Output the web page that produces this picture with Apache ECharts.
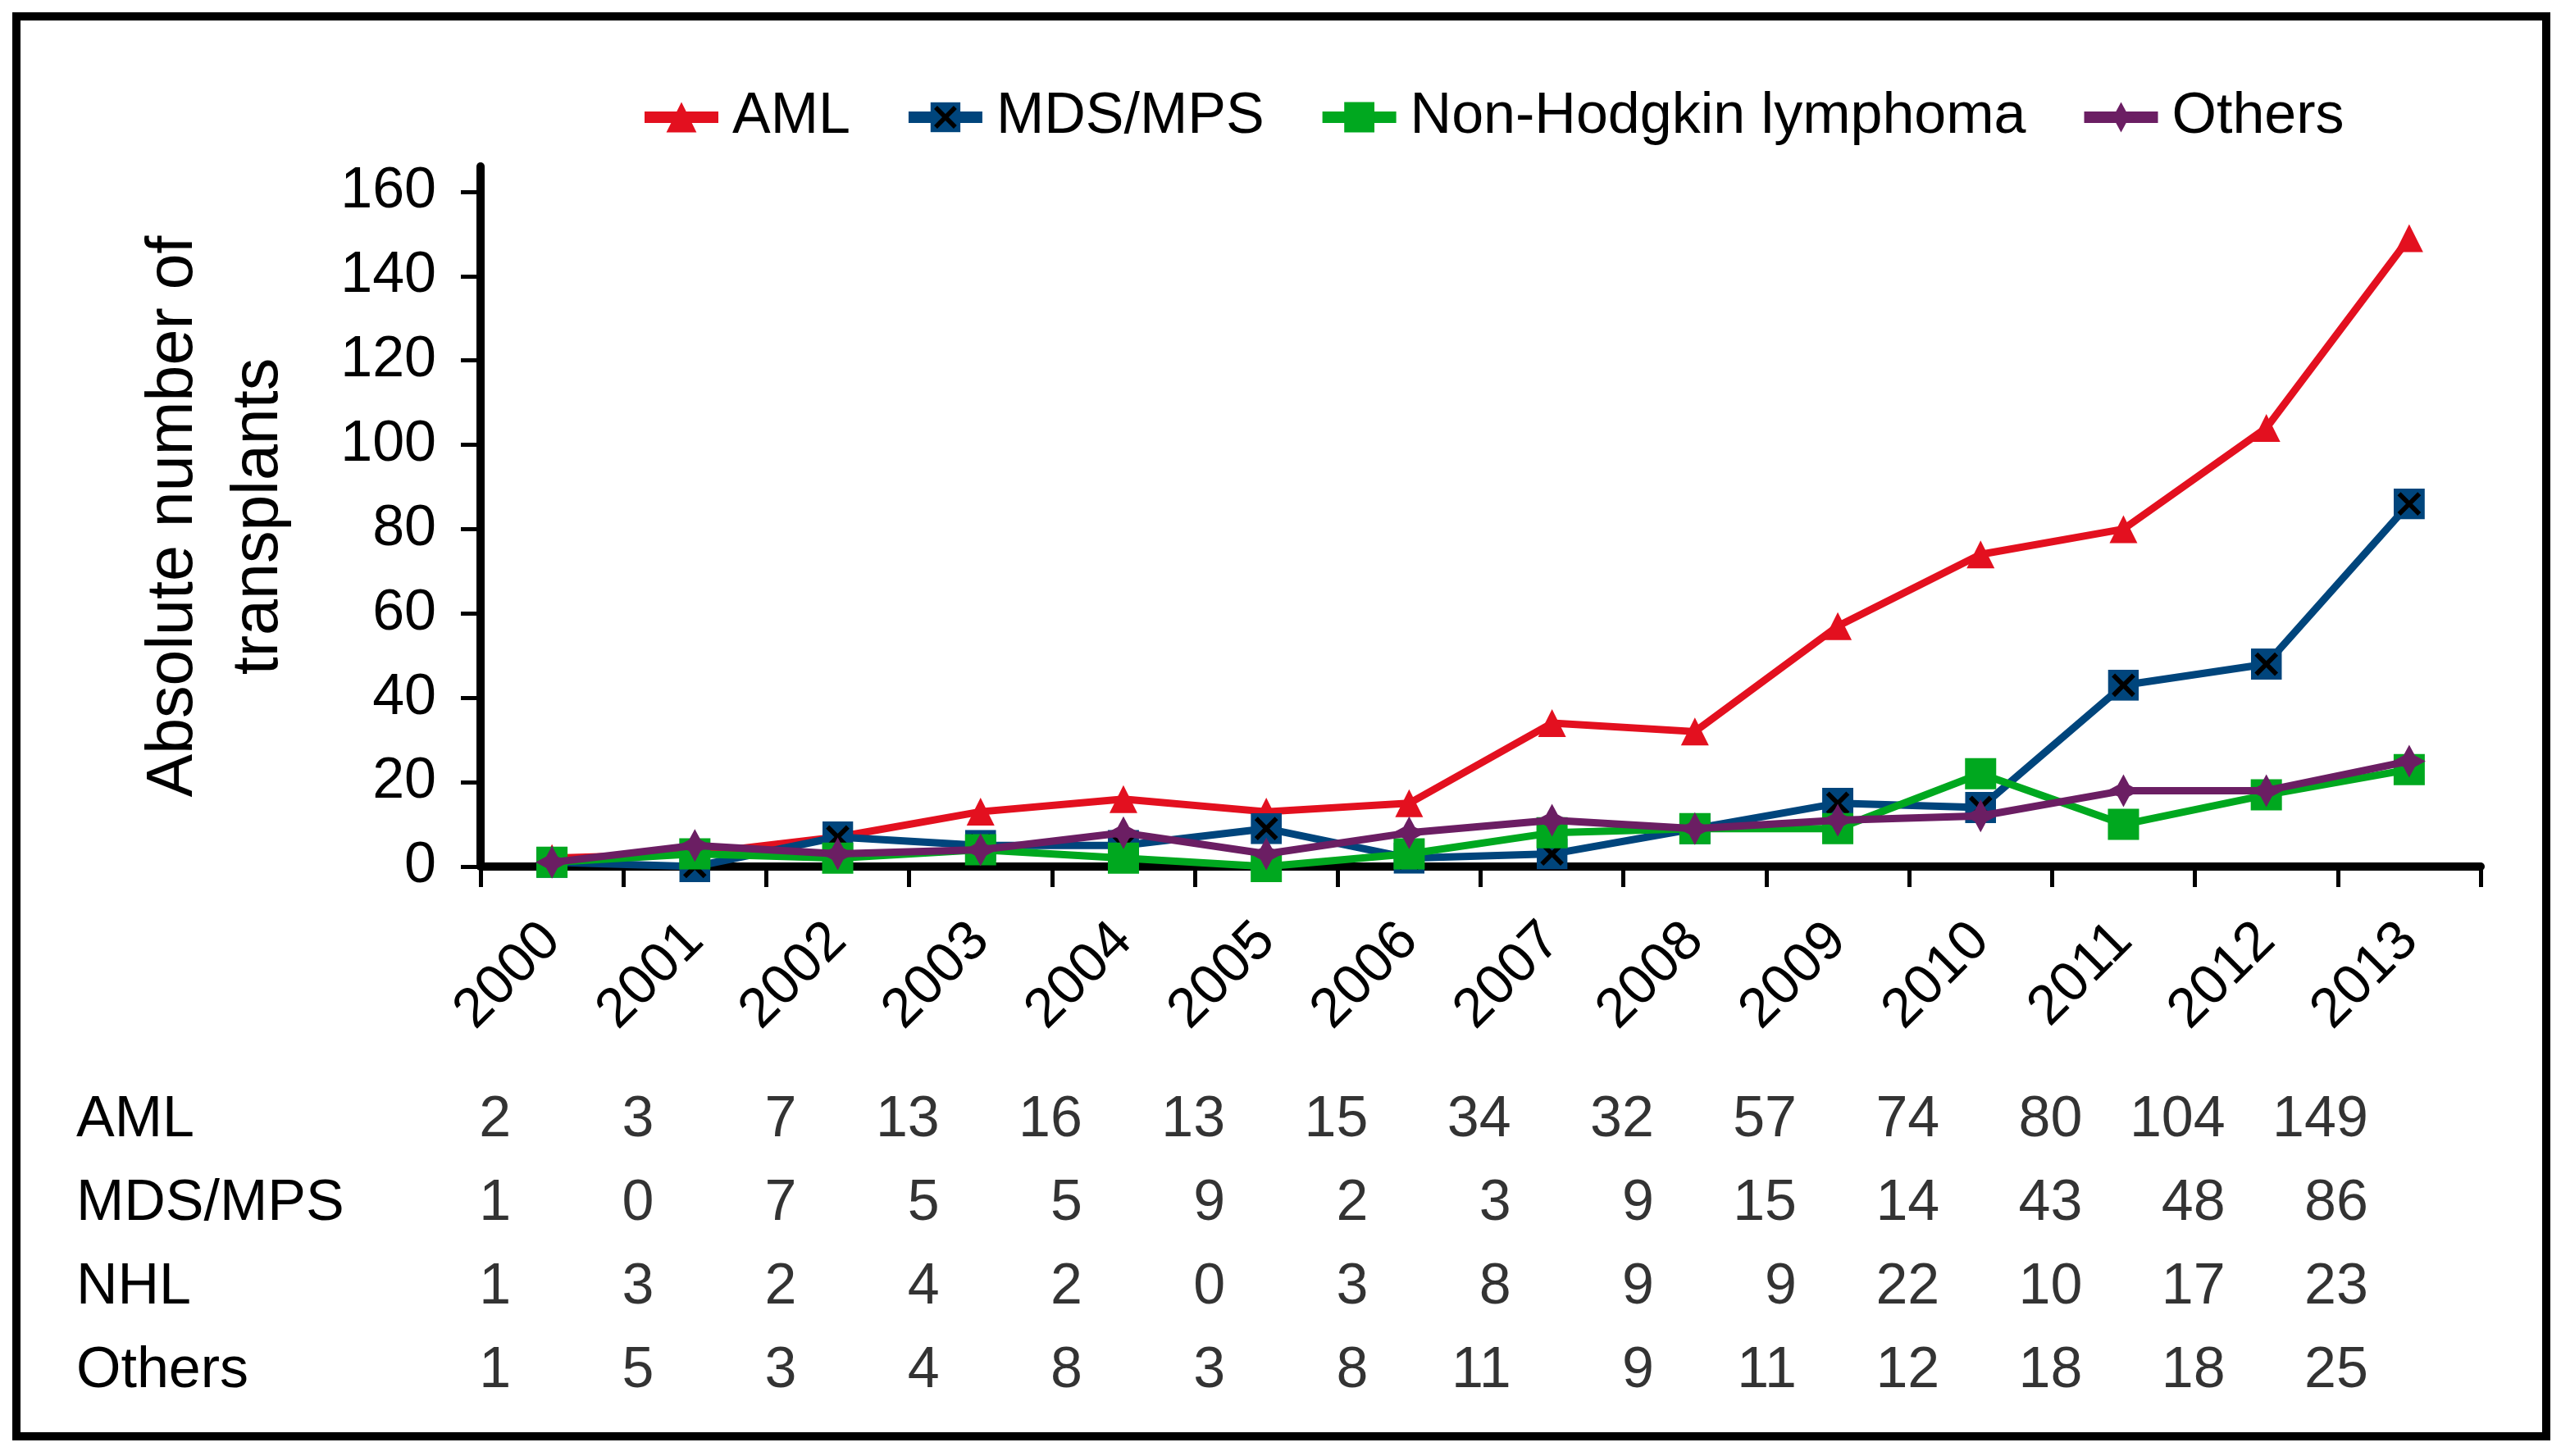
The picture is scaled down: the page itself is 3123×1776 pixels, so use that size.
<!DOCTYPE html>
<html>
<head>
<meta charset="utf-8">
<script src="https://cdn.jsdelivr.net/npm/echarts@6/dist/echarts.min.js"></script>
<style>
html,body{margin:0;padding:0;background:#fff;}
#chart{width:3123px;height:1776px;}
</style>
</head>
<body>
<div id="chart"></div>
<script>
const years = ['2000','2001','2002','2003','2004','2005','2006','2007','2008','2009','2010','2011','2012','2013'];
const aml = [2,3,7,13,16,13,15,34,32,57,74,80,104,149];
const mdsMps = [1,0,7,5,5,9,2,3,9,15,14,43,48,86];
const nhl = [1,3,2,4,2,0,3,8,9,9,22,10,17,23];
const others = [1,5,3,4,8,3,8,11,9,11,12,18,18,25];
const seriesNames = ['AML','MDS/MPS','Non-Hodgkin lymphoma','Others'];
const tableRows = ['AML','MDS/MPS','NHL','Others'];
const yTicks = [0,20,40,60,80,100,120,140,160];

const FONT = '"Liberation Sans", Arial, sans-serif';
const colors = ['#E3101F','#00457C','#00A81F','#6B1E63'];
const mdsSvg = '<svg xmlns="http://www.w3.org/2000/svg" width="40" height="40"><rect width="40" height="40" fill="#00457C"/><path d="M7 7L33 33M33 7L7 33" stroke="#000" stroke-width="6"/></svg>';
const mdsSymbol = 'image://data:image/svg+xml;charset=utf-8,' + encodeURIComponent(mdsSvg);
const starSymbol = 'path://M0,-10 L3.5,-3.5 L10,0 L3.5,3.5 L0,10 L-3.5,3.5 L-10,0 L-3.5,-3.5 Z';

const allSeries = [aml, mdsMps, nhl, others];
const symbols = ['triangle', mdsSymbol, 'rect', starSymbol];
const symSizes = [34, 38, 38, 40];

const chart = echarts.init(document.getElementById('chart'), null, {renderer: 'canvas'});

const lineSeries = allSeries.map((vals, k) => ({
  name: seriesNames[k],
  type: 'line',
  xAxisIndex: 0, yAxisIndex: 0,
  data: vals,
  symbol: symbols[k],
  symbolSize: symSizes[k],
  showAllSymbol: true,
  lineStyle: {color: colors[k], width: 9},
  itemStyle: {color: colors[k]},
  z: 2 + k
}));

const tableValues = [aml, mdsMps, nhl, others];
const tableSeries = tableValues.map((vals, r) => ({
  name: 'table-' + tableRows[r],
  type: 'scatter',
  xAxisIndex: 1, yAxisIndex: 1,
  data: vals.map((v, i) => [years[i], tableRows[r], v]),
  symbolSize: 1,
  itemStyle: {color: 'rgba(0,0,0,0)'},
  label: {
    show: true, position: 'inside', align: 'right', verticalAlign: 'middle',
    offset: [-50, 0],
    formatter: p => String(p.value[2]),
    color: '#000', fontSize: 70, fontFamily: FONT
  },
  silent: true
}));

chart.setOption({
  animation: false,
  backgroundColor: '#fff',
  textStyle: {fontFamily: FONT, color: '#000'},
  legend: {
    data: seriesNames,
    left: 779, top: 108, padding: 0,
    itemWidth: 90, itemHeight: 46, itemGap: 64,
    lineStyle: {width: 14},
    textStyle: {fontSize: 70, color: '#000', fontFamily: FONT, padding: [0,0,0,12]}
  },
  grid: [
    {left: 586, right: 98, top: 203, bottom: 719, outerBoundsMode: 'none'},
    {left: 586, right: 98, top: 1316, height: 408, outerBoundsMode: 'none'}
  ],
  xAxis: [
    {
      type: 'category', gridIndex: 0, data: years, boundaryGap: true,
      axisLine: {lineStyle: {color: '#000', width: 10}},
      axisTick: {show: true, length: 25, lineStyle: {color: '#000', width: 5}},
      axisLabel: {rotate: 45, margin: 80, fontSize: 68, color: '#000', fontFamily: FONT, interval: 0},
      splitLine: {show: false}
    },
    {
      type: 'category', gridIndex: 1, data: years, boundaryGap: true,
      axisLine: {show: false}, axisTick: {show: false}, axisLabel: {show: false}, splitLine: {show: false}
    }
  ],
  yAxis: [
    {
      type: 'value', gridIndex: 0, min: 0, max: 166, interval: 20,
      name: 'Absolute number of\ntransplants',
      nameLocation: 'middle', nameGap: 218,
      nameTextStyle: {fontSize: 79, lineHeight: 104, color: '#000', fontFamily: FONT},
      axisLine: {show: true, lineStyle: {color: '#000', width: 10}},
      axisTick: {show: true, length: 24, customValues: yTicks, lineStyle: {color: '#000', width: 5}},
      axisLabel: {margin: 54, fontSize: 70, color: '#000', fontFamily: FONT, customValues: yTicks},
      splitLine: {show: false}
    },
    {
      type: 'category', gridIndex: 1, data: tableRows, inverse: true,
      axisLine: {show: false}, axisTick: {show: false},
      axisLabel: {align: 'left', margin: 493, fontSize: 70, color: '#000', fontFamily: FONT},
      splitLine: {show: false}
    }
  ],
  graphic: [{
    type: 'rect', silent: true, z: 100,
    shape: {x: 20, y: 20, width: 3085, height: 1732},
    style: {fill: 'none', stroke: '#000', lineWidth: 10}
  }],
  series: lineSeries.concat(tableSeries)
});
</script>
</body>
</html>
